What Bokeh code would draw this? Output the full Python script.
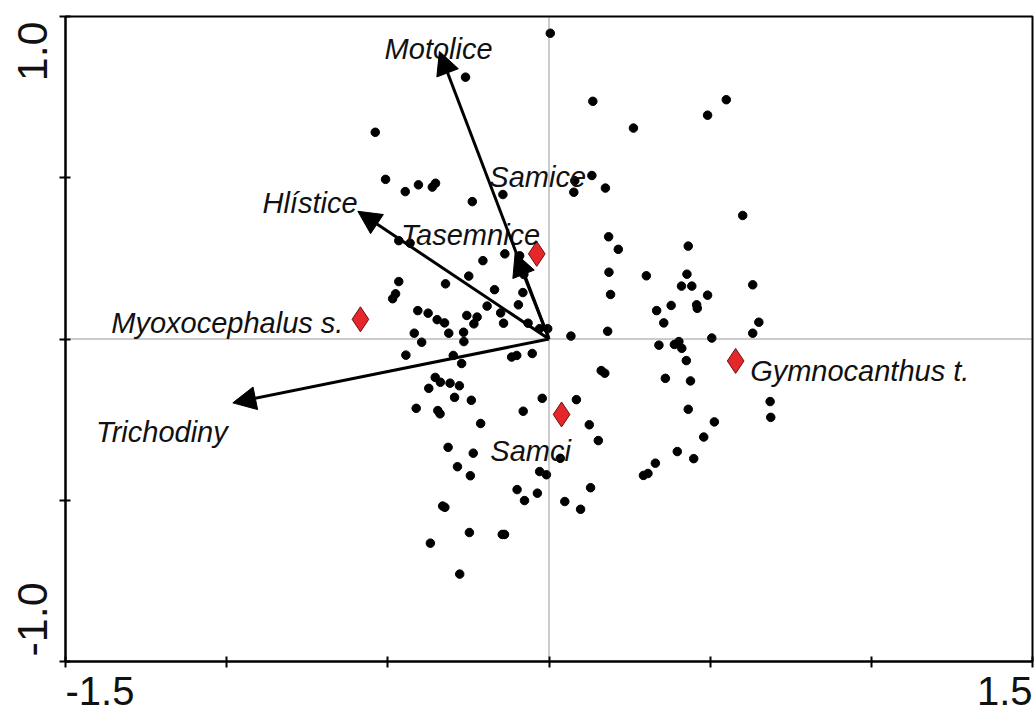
import math
from bokeh.plotting import figure
from bokeh.models import (ColumnDataSource, Arrow, NormalHead, Span,
                          FixedTicker, Range1d, LinearAxis)
from bokeh.core.properties import value
from bokeh.embed import file_html
from bokeh.resources import INLINE

# ---- sample scores (black dots) ----
sample_x = [0.004, -0.259, 0.136, 0.550, 0.492, 0.262, -0.539, -0.507, -0.446, -0.405,
            -0.362, -0.352, -0.238, -0.143, 0.080, 0.133, 0.077, 0.175, 0.601, -0.466,
            -0.431, 0.185, 0.215, 0.432, -0.137, -0.091, -0.205, -0.249, -0.466, -0.321,
            0.186, 0.302, 0.428, 0.411, 0.443, 0.632, -0.078, -0.169, -0.081, -0.476,
            -0.485, 0.191, 0.492, -0.095, -0.192, -0.407, -0.375, -0.150, -0.255, -0.223,
            0.334, 0.379, 0.458, 0.460, -0.347, -0.324, -0.233, -0.141, -0.065, 0.356,
            0.651, -0.418, -0.311, -0.265, -0.029, -0.004, 0.068, 0.182, 0.632, 0.505,
            -0.395, -0.264, 0.403, -0.444, -0.297, -0.271, -0.116, -0.100, -0.052, 0.341,
            0.389, 0.412, 0.426, 0.162, 0.173, 0.361, 0.439, -0.353, -0.337, -0.307,
            -0.278, -0.373, -0.293, -0.241, -0.021, 0.085, -0.412, -0.345, -0.338, -0.080,
            0.432, 0.686, 0.688, -0.212, 0.125, 0.513, 0.153, 0.480, -0.313, -0.235,
            0.035, 0.398, 0.449, 0.330, -0.284, -0.244, -0.029, -0.008, 0.293, 0.307,
            -0.099, -0.036, 0.129, -0.076, 0.049, 0.098, -0.330, -0.323, -0.247, -0.145,
            -0.138, -0.368, -0.277]
sample_y = [0.948, 0.812, 0.737, 0.742, 0.694, 0.654, 0.641, 0.495, 0.457, 0.478,
            0.471, 0.483, 0.426, 0.448, 0.491, 0.507, 0.455, 0.468, 0.383, 0.305,
            0.297, 0.317, 0.278, 0.288, 0.264, 0.258, 0.243, 0.195, 0.178, 0.171,
            0.207, 0.196, 0.201, 0.164, 0.164, 0.168, 0.200, 0.153, 0.144, 0.140,
            0.125, 0.138, 0.136, 0.106, 0.102, 0.088, 0.080, 0.081, 0.073, 0.068,
            0.088, 0.104, 0.106, 0.095, 0.060, 0.050, 0.047, 0.049, 0.049, 0.050,
            0.052, 0.018, 0.018, 0.021, 0.032, 0.032, 0.009, 0.024, 0.018, 0.003,
            -0.010, -0.008, -0.008, -0.050, -0.051, -0.076, -0.056, -0.051, -0.045, -0.019,
            -0.017, -0.029, -0.067, -0.098, -0.106, -0.122, -0.130, -0.119, -0.134, -0.137,
            -0.145, -0.153, -0.181, -0.190, -0.184, -0.188, -0.215, -0.222, -0.232, -0.224,
            -0.218, -0.194, -0.243, -0.262, -0.266, -0.257, -0.315, -0.304, -0.336, -0.354,
            -0.370, -0.349, -0.371, -0.385, -0.396, -0.424, -0.411, -0.421, -0.423, -0.417,
            -0.467, -0.478, -0.461, -0.501, -0.504, -0.528, -0.518, -0.522, -0.600, -0.606,
            -0.606, -0.633, -0.729]

# ---- environmental vectors (arrows) ----
vector_names = ["Motolice", "Hlístice", "Tasemnice", "Trichodiny"]
vector_x = [-0.340, -0.593, -0.105, -0.981]
vector_y = [0.892, 0.396, 0.267, -0.198]
vector_label_x = [-0.510, -0.889, -0.459, -1.405]
vector_label_y = [0.900, 0.421, 0.321, -0.289]

# ---- nominal variable centroids (red diamonds) ----
centroid_names = ["Myoxocephalus s.", "Samice", "Samci", "Gymnocanthus t."]
centroid_x = [-0.585, -0.038, 0.039, 0.579]
centroid_y = [0.061, 0.264, -0.234, -0.068]
centroid_label_x = [-1.358, -0.185, -0.182, 0.624]
centroid_label_y = [0.050, 0.502, -0.346, -0.098]

# ---- axes ----
x_ticks = [-1.5, -1.0, -0.5, 0.0, 0.5, 1.0, 1.5]
y_ticks = [-1.0, -0.5, 0.0, 0.5, 1.0]
x_tick_labels = {-1.5: "-1.5", 1.5: "1.5"}
y_tick_labels = {-1.0: "-1.0", 1.0: "1.0"}

FONT = "Liberation Sans"
X_LABEL_PX = 40
Y_LABEL_PX = 43

W, H = 1035, 713
BL, BR, BT, BB = 65, 3, 16, 52
px_per_x = (W - BL - BR) / 3.0
px_per_y = (H - BT - BB) / 2.0

p = figure(width=W, height=H,
           x_range=Range1d(-1.5, 1.5), y_range=Range1d(-1.0, 1.0),
           output_backend="svg", toolbar_location=None,
           min_border_left=BL, min_border_right=BR,
           min_border_top=BT, min_border_bottom=BB)
p.xgrid.visible = False
p.ygrid.visible = False
p.outline_line_color = "black"
p.outline_line_width = 2
p.background_fill_color = "white"
p.border_fill_color = "white"

# main axes: tick marks only
for ax, ticks in ((p.xaxis[0], x_ticks), (p.yaxis[0], y_ticks)):
    ax.ticker = FixedTicker(ticks=ticks)
    ax.major_label_overrides = {t: "" for t in ticks}
    ax.major_label_text_font_size = "1px"
    ax.major_label_standoff = 0
    ax.minor_tick_line_color = None
    ax.axis_line_width = 2
    ax.axis_line_color = "black"
    ax.major_tick_line_width = 2
    ax.major_tick_line_color = "black"
    ax.major_tick_in = 5
    ax.major_tick_out = 6

# label axes: the end labels sit inside the tick span, as in the original
def est_width(s, size):
    widths = {"-": 0.333, "1": 0.556, ".": 0.278, "5": 0.556, "0": 0.556}
    return sum(widths[c] for c in s) * size

xl_pos, xl_over = [], {}
for t, s in x_tick_labels.items():
    shift = est_width(s, X_LABEL_PX) / 2 / px_per_x
    pos = t + shift if t < 0 else t - shift
    xl_pos.append(pos)
    xl_over[pos] = s
xlab = LinearAxis(ticker=FixedTicker(ticks=xl_pos), major_label_overrides=xl_over,
                  axis_line_color=None, major_tick_line_color=None,
                  minor_tick_line_color=None, major_tick_in=0, major_tick_out=0,
                  major_label_standoff=9,
                  major_label_text_font=FONT,
                  major_label_text_font_size=f"{X_LABEL_PX}px",
                  major_label_text_color="#111111")
p.add_layout(xlab, "below")

yl_pos, yl_over = [], {}
for t, s in y_tick_labels.items():
    shift = (est_width(s, Y_LABEL_PX) / 2 + 5) / px_per_y
    pos = t + shift if t < 0 else t - shift
    yl_pos.append(pos)
    yl_over[pos] = s
ylab = LinearAxis(ticker=FixedTicker(ticks=yl_pos), major_label_overrides=yl_over,
                  axis_line_color=None, major_tick_line_color=None,
                  minor_tick_line_color=None, major_tick_in=0, major_tick_out=0,
                  major_label_standoff=12,
                  major_label_orientation="vertical",
                  major_label_text_font=FONT,
                  major_label_text_font_size=f"{Y_LABEL_PX}px",
                  major_label_text_color="#111111")
p.add_layout(ylab, "left")

# zero lines
p.add_layout(Span(location=0, dimension="height", line_color="#333333",
                  line_width=1, line_dash="1 1"))
p.add_layout(Span(location=0, dimension="width", line_color="#333333",
                  line_width=1, line_dash="1 1"))

# sample points
src = ColumnDataSource(dict(x=sample_x, y=sample_y))
p.scatter("x", "y", source=src, size=8.5, marker="circle",
          fill_color="black", line_color="black")

# arrows
for vx, vy in zip(vector_x, vector_y):
    p.add_layout(Arrow(x_start=0, y_start=0, x_end=vx, y_end=vy,
                       line_color="black", line_width=3,
                       end=NormalHead(size=23, fill_color="black",
                                      line_color="black", line_width=1)))

# centroids
csrc = ColumnDataSource(dict(x=centroid_x, y=centroid_y))
p.scatter("x", "y", source=csrc, marker="diamond", size=25,
          fill_color="#e5262a", line_color="#6a1212", line_width=1)

# labels
lsrc = ColumnDataSource(dict(x=vector_label_x + centroid_label_x,
                             y=vector_label_y + centroid_label_y,
                             t=vector_names + centroid_names))
p.text("x", "y", text="t", source=lsrc, text_font=value(FONT),
       text_font_style="italic", text_font_size="29px",
       text_color="#111111", text_baseline="alphabetic", text_align="left")

open("out.html", "w").write(file_html(p, INLINE))
